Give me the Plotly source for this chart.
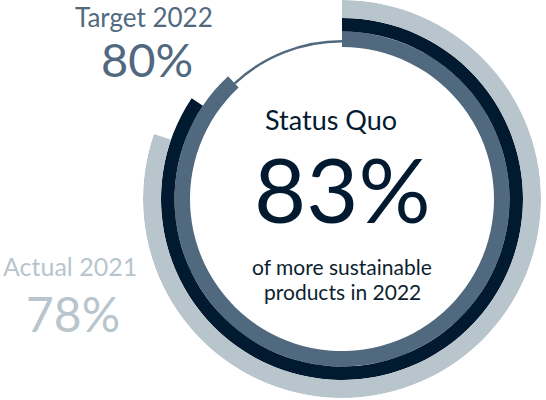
import plotly.graph_objects as go

# ---- data ----
series = ["Actual 2021", "Target 2022", "Status Quo"]
label_values = [78, 80, 83]              # percentages printed on the graphic
arc_share = [80.3, 88.1, 84.4]           # share of the full circle each ring covers in the picture (%)
subtitle = ["of more sustainable", "products in 2022"]

# ---- styling ----
ring_color = {"Actual 2021": "#b8c5cc", "Target 2022": "#51697f", "Status Quo": "#021a2f"}
ring_base = {"Actual 2021": 181, "Target 2022": 152, "Status Quo": 167.5}
ring_thick = {"Actual 2021": 18, "Target 2022": 15.5, "Status Quo": 13.5}
FONT = "Lato"

fig = go.Figure()

# thin track that completes the target ring
t_idx = series.index("Target 2022")
t_end = arc_share[t_idx] * 3.6
fig.add_trace(go.Barpolar(
    r=[2.5], base=[156.5], theta=[(t_end + 360) / 2], width=[360 - t_end],
    marker=dict(color=ring_color["Target 2022"], line=dict(width=0)),
    hoverinfo="skip", showlegend=False))

for name in ["Target 2022", "Status Quo", "Actual 2021"]:
    i = series.index(name)
    deg = arc_share[i] * 3.6
    fig.add_trace(go.Barpolar(
        r=[ring_thick[name]], base=[ring_base[name]], theta=[deg / 2], width=[deg],
        marker=dict(color=ring_color[name], line=dict(width=0)),
        name=name, showlegend=False))

W, H = 546, 400
def px(x):
    return x / W
def py(y):
    return 1 - y / H

ann = []
# Status Quo block
sq = series.index("Status Quo")
ann.append(dict(x=px(331), y=py(119), text="Status Quo", font=dict(size=27, color=ring_color["Status Quo"], family=FONT)))
ann.append(dict(x=px(342), y=py(188), text=f"{label_values[sq]}%", font=dict(size=90, color=ring_color["Status Quo"], family=FONT)))
ann.append(dict(x=px(342), y=py(266), text=subtitle[0], font=dict(size=21, color="#0d1f30", family=FONT)))
ann.append(dict(x=px(342), y=py(291), text=subtitle[1], font=dict(size=21, color="#0d1f30", family=FONT)))
# Target
tg = series.index("Target 2022")
ann.append(dict(x=px(144), y=py(16.5), text=series[tg], font=dict(size=26, color=ring_color["Target 2022"], family=FONT)))
ann.append(dict(x=px(147), y=py(58.5), text=f"{label_values[tg]}%", font=dict(size=47, color=ring_color["Target 2022"], family=FONT)))
# Actual
ac = series.index("Actual 2021")
ann.append(dict(x=px(70), y=py(266), text=series[ac], font=dict(size=25, color=ring_color["Actual 2021"], family=FONT)))
ann.append(dict(x=px(73), y=py(313), text=f"{label_values[ac]}%", font=dict(size=48, color=ring_color["Actual 2021"], family=FONT)))

for a in ann:
    a.update(xref="paper", yref="paper", showarrow=False, xanchor="center", yanchor="middle")

fig.update_layout(
    width=W, height=H,
    margin=dict(l=0, r=0, t=0, b=0),
    paper_bgcolor="white", plot_bgcolor="white",
    polar=dict(
        domain=dict(x=[143 / W, 541 / W], y=[0.005, 1.0]),
        bgcolor="white",
        radialaxis=dict(visible=False, range=[0, 199], showgrid=False),
        angularaxis=dict(visible=False, rotation=90, direction="clockwise", showgrid=False),
        bargap=0,
    ),
    annotations=ann,
    showlegend=False,
)

fig.write_html("out.html",
               config={"displayModeBar": False},
               post_script="document.body.style.margin='0px';document.body.style.padding='0px';")
